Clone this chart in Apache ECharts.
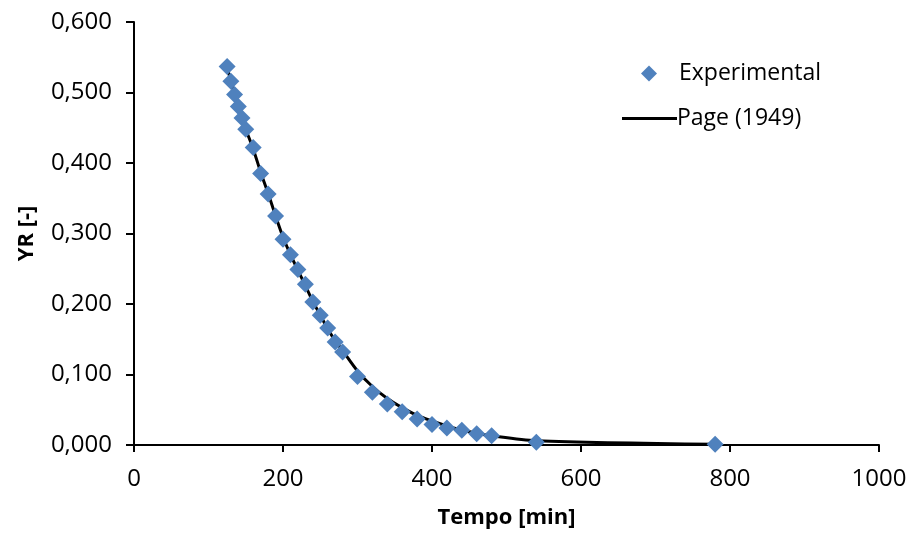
<!DOCTYPE html>
<html>
<head>
<meta charset="utf-8">
<script src="https://cdn.jsdelivr.net/npm/echarts@6/dist/echarts.min.js"></script>
<style>html,body{margin:0;padding:0;background:#fff;}#c{width:911px;height:536px;}</style>
</head>
<body>
<div id="c"></div>
<script>
const times = [125,130,135,140,145,150,160,170,180,190,200,210,220,230,240,250,260,270,280,300,320,340,360,380,400,420,440,460,480,540,780];
const experimental = [0.537,0.516,0.497,0.480,0.464,0.448,0.422,0.385,0.356,0.325,0.292,0.270,0.249,0.228,0.203,0.184,0.166,0.146,0.132,0.097,0.075,0.058,0.047,0.037,0.029,0.024,0.021,0.016,0.013,0.004,0.001];
const pageModel = [0.536,0.516,0.497,0.480,0.464,0.448,0.420,0.387,0.357,0.325,0.295,0.270,0.248,0.226,0.204,0.184,0.165,0.148,0.134,0.105,0.083,0.066,0.053,0.042,0.034,0.027,0.021,0.017,0.013,0.006,0.001];
const seriesNames = ['Experimental','Page (1949)'];
const xTitle = 'Tempo [min]';
const yTitle = 'YR [-]';

const FONT = '"Open Sans", "DejaVu Sans", sans-serif';
const chart = echarts.init(document.getElementById('c'), null, {renderer:'canvas'});
chart.setOption({
  animation: false,
  backgroundColor: '#ffffff',
  grid: {left: 134, right: 32, top: 22, bottom: 91, containLabel: false},
  legend: [
    {data: [seriesNames[0]], left: 636, top: 57, orient: 'vertical', itemWidth: 16, itemHeight: 16,
     icon: 'diamond', textStyle: {fontFamily: FONT, fontSize: 23, color: '#000', padding: [0,0,0,17]}},
    {data: [{name: seriesNames[1], icon: 'rect'}], left: 617, top: 102, itemWidth: 55, itemHeight: 3,
     textStyle: {fontFamily: FONT, fontSize: 23, color: '#000', padding: [0,0,0,-5]}}
  ],
  xAxis: {
    type: 'value', min: 0, max: 1000, interval: 200,
    name: xTitle, nameLocation: 'middle', nameGap: 62,
    nameTextStyle: {fontFamily: FONT, fontSize: 22, fontWeight: 'bold', color: '#000'},
    axisLine: {show: true, onZero: false, lineStyle: {color: '#000', width: 2}},
    axisTick: {show: true, inside: false, length: 7, lineStyle: {color: '#000', width: 2}},
    axisLabel: {fontFamily: FONT, fontSize: 24, color: '#000', margin: 22, formatter: v => String(v)},
    splitLine: {show: false}
  },
  yAxis: {
    type: 'value', min: 0, max: 0.6, interval: 0.1,
    name: yTitle, nameLocation: 'middle', nameGap: 96, nameRotate: 90,
    nameTextStyle: {fontFamily: FONT, fontSize: 22, fontWeight: 'bold', color: '#000'},
    axisLine: {show: true, lineStyle: {color: '#000', width: 2}},
    axisTick: {show: true, inside: false, length: 8, lineStyle: {color: '#000', width: 2}},
    axisLabel: {fontFamily: FONT, fontSize: 24, color: '#000', margin: 22,
      formatter: v => v.toFixed(3).replace('.', ',')},
    splitLine: {show: false}
  },
  series: [
    {name: seriesNames[0], type: 'scatter', symbol: 'diamond', symbolSize: 17, z: 5,
     itemStyle: {color: '#4f81bd', opacity: 1},
     data: times.map((t, i) => [t, experimental[i]])},
    {name: seriesNames[1], type: 'line', smooth: 0.3, showSymbol: false, symbol: 'none', z: 3,
     itemStyle: {color: '#000'}, lineStyle: {color: '#000', width: 3},
     data: times.map((t, i) => [t, pageModel[i]])}
  ]
});
</script>
</body>
</html>
